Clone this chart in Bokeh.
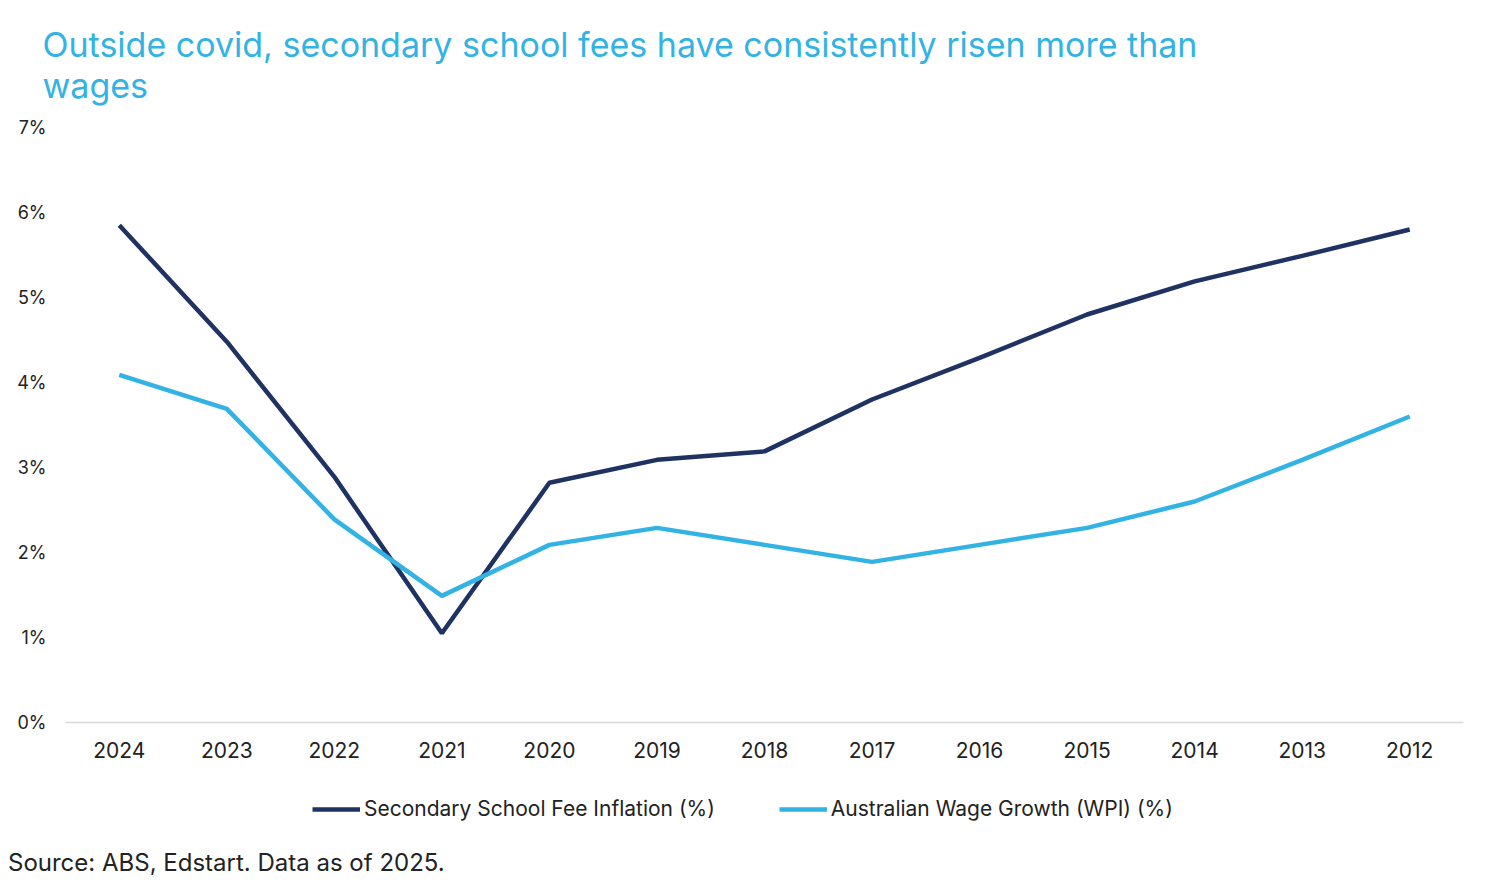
from bokeh.plotting import figure
from bokeh.layouts import column
from bokeh.models import (FactorRange, Range1d, FixedTicker, PrintfTickFormatter,
                          Legend, LegendItem, Div)
from bokeh.embed import file_html
from bokeh.resources import INLINE

years = ["2024", "2023", "2022", "2021", "2020", "2019", "2018", "2017",
         "2016", "2015", "2014", "2013", "2012"]
fee_inflation = [5.85, 4.48, 2.89, 1.05, 2.82, 3.09, 3.19, 3.80, 4.29, 4.80, 5.19, 5.49, 5.80]
wage_growth = [4.09, 3.69, 2.39, 1.49, 2.09, 2.29, 2.09, 1.89, 2.09, 2.29, 2.60, 3.09, 3.60]
y_ticks = [0, 1, 2, 3, 4, 5, 6, 7]
series_names = ["Secondary School Fee Inflation (%)", "Australian Wage Growth (WPI) (%)"]
title_text = "Outside covid, secondary school fees have consistently risen more than\nwages"
source_text = "Source: ABS, Edstart. Data as of 2025."

FONT = "Inter"
DARK = "#1f3262"
LIGHT = "#33b3e3"
TXT = "#222222"

p = figure(frame_width=1398, frame_height=595, x_range=FactorRange(*years, range_padding=0),
           y_range=Range1d(0, 7), output_backend="svg", toolbar_location=None,
           min_border_left=65, min_border_right=10, min_border_top=120, min_border_bottom=50)
p.outline_line_color = None
p.grid.grid_line_color = None

p.title.text = title_text
p.title.text_font = FONT
p.title.text_font_style = "normal"
p.title.text_font_size = "34px"
p.title.text_color = LIGHT
p.title.offset = -23
p.title.standoff = 43

p.line(years, fee_inflation, line_color=DARK, line_width=4.5)
p.line(years, wage_growth, line_color=LIGHT, line_width=4.5)

p.yaxis.ticker = FixedTicker(ticks=y_ticks)
p.yaxis.formatter = PrintfTickFormatter(format="%d%%")
p.yaxis.axis_line_color = None
p.yaxis.major_tick_line_color = None
p.yaxis.minor_tick_line_color = None
p.yaxis.major_label_text_font = FONT
p.yaxis.major_label_text_font_size = "18px"
p.yaxis.major_label_text_color = TXT
p.yaxis.major_label_standoff = 13

p.xaxis.axis_line_color = "#d9d9d9"
p.xaxis.axis_line_width = 1.5
p.xaxis.major_tick_line_color = None
p.xaxis.minor_tick_line_color = None
p.xaxis.major_label_text_font = FONT
p.xaxis.major_label_text_font_size = "21px"
p.xaxis.major_label_text_color = TXT
p.xaxis.major_label_standoff = 13

# Legend strip (series drawn out of view so only the legend shows)
p2 = figure(width=1473, height=60, x_range=FactorRange(*years, range_padding=0),
            y_range=Range1d(-20, -10), output_backend="svg", toolbar_location=None,
            x_axis_location=None, y_axis_location=None,
            min_border_left=0, min_border_right=0, min_border_top=0, min_border_bottom=0)
p2.outline_line_color = None
p2.grid.grid_line_color = None
d1 = p2.line(years, fee_inflation, line_color=DARK, line_width=4.5)
d2 = p2.line(years, wage_growth, line_color=LIGHT, line_width=4.5)

legend = Legend(items=[LegendItem(label=series_names[0], renderers=[d1]),
                       LegendItem(label=series_names[1], renderers=[d2])],
                orientation="horizontal", location=(247, 11),
                label_text_font=FONT, label_text_font_size="21px", label_text_color=TXT,
                glyph_width=48, glyph_height=20, label_height=20, label_standoff=4, spacing=64,
                border_line_color=None, background_fill_alpha=0, margin=0, padding=0)
p2.add_layout(legend, "center")

src = Div(text=source_text, width=800, margin=(17, 0, 0, 8),
          styles={"font-family": FONT, "font-size": "24px", "color": TXT,
                  "line-height": "28px"})

layout = column(p, p2, src, spacing=0)
open("out.html", "w").write(file_html(layout, INLINE))
